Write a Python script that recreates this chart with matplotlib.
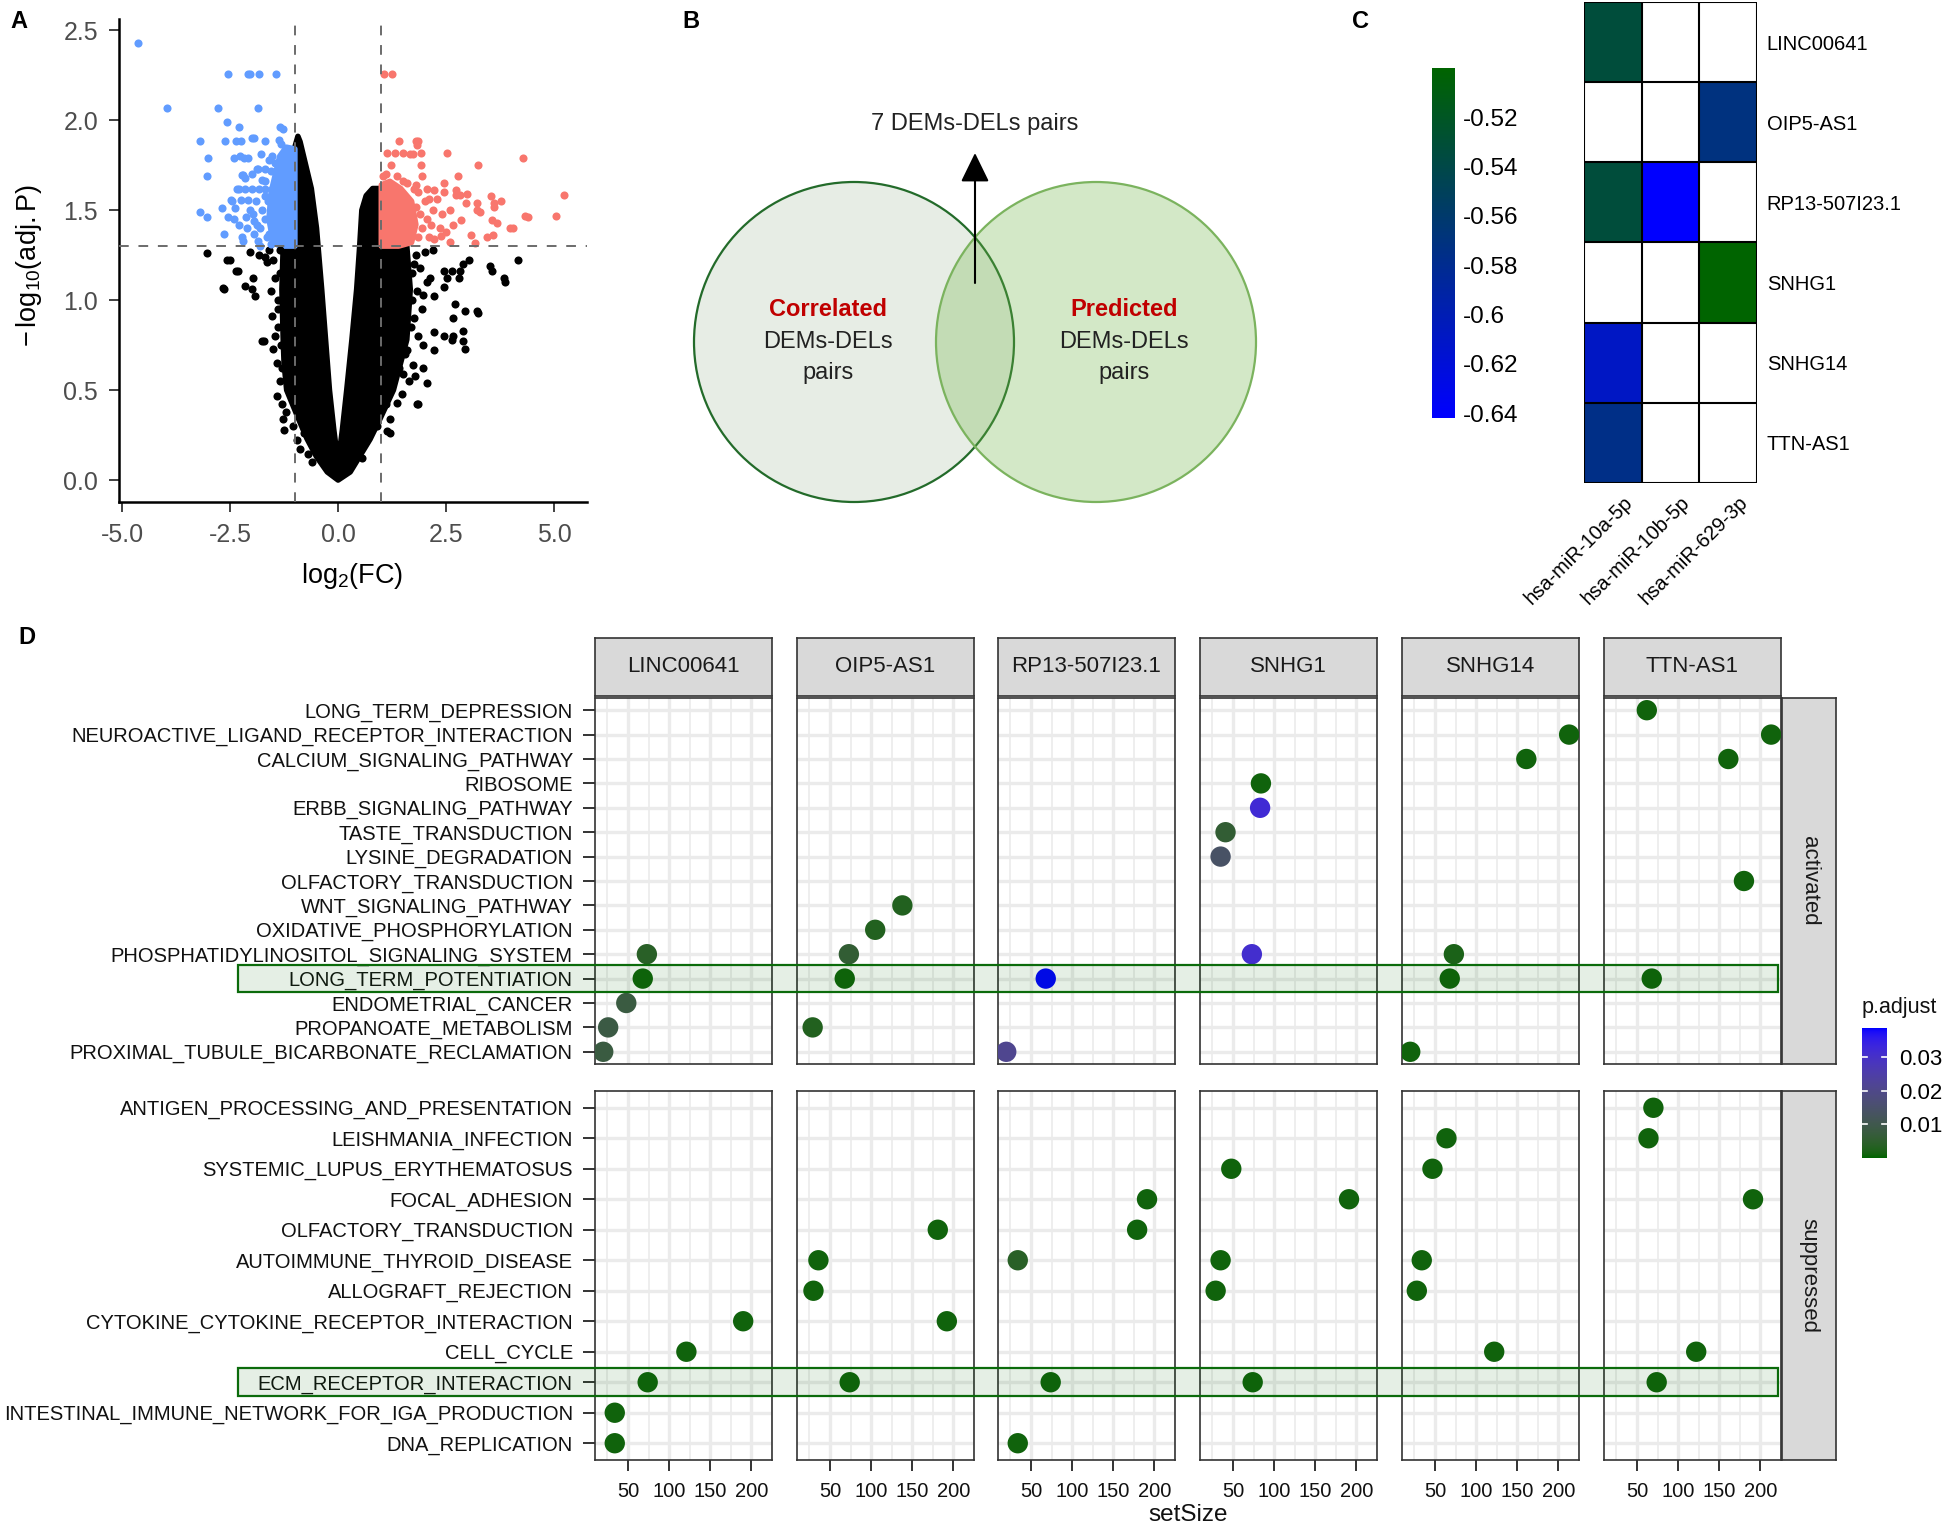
import numpy as np
import matplotlib
matplotlib.use('Agg')
import matplotlib.pyplot as plt
import matplotlib.transforms as mtransforms
from matplotlib.colors import LinearSegmentedColormap, ListedColormap, Normalize
from matplotlib.patches import Circle, Rectangle
from matplotlib.cm import ScalarMappable

plt.rcParams['font.family'] = ['Liberation Sans', 'DejaVu Sans']
plt.rcParams['mathtext.fontset'] = 'custom'
plt.rcParams['mathtext.rm'] = 'Liberation Sans'
plt.rcParams['mathtext.it'] = 'Liberation Sans:italic'
plt.rcParams['mathtext.bf'] = 'Liberation Sans:bold'

# ---------------- data : panel A (volcano) ----------------
v_outline = [(0.0, 0.0), (-0.25, 0.045), (-0.50, 0.13), (-0.72, 0.23), (-0.95, 0.36), (-1.19, 0.50),
             (-1.25, 0.65), (-1.27, 0.78), (-1.30, 1.06), (-1.27, 1.30), (-1.0, 1.30), (-1.0, 1.85),
             (-0.93, 1.91), (-0.88, 1.88), (-0.75, 1.75), (-0.62, 1.62), (-0.50, 1.40), (-0.38, 1.06),
             (-0.29, 0.78), (-0.20, 0.50), (-0.10, 0.28), (-0.02, 0.13), (0.02, 0.13), (0.10, 0.28),
             (0.20, 0.50), (0.32, 0.78), (0.43, 1.06), (0.50, 1.30), (0.55, 1.50), (0.65, 1.58),
             (0.80, 1.62), (0.95, 1.62), (1.0, 1.60), (1.0, 1.30), (1.59, 1.30), (1.67, 1.06),
             (1.59, 0.78), (1.28, 0.50), (0.95, 0.33), (0.74, 0.227), (0.28, 0.045)]
blue_core = [(-1.0, 1.30), (-1.0, 1.84), (-1.2, 1.85), (-1.35, 1.80), (-1.45, 1.70), (-1.55, 1.60),
             (-1.60, 1.45), (-1.50, 1.32), (-1.35, 1.30)]
red_core = [(1.0, 1.30), (1.0, 1.64), (1.2, 1.66), (1.45, 1.62), (1.7, 1.55), (1.8, 1.42),
            (1.7, 1.32), (1.4, 1.30)]
blue_points = [(-4.62, 2.43), (-2.55, 2.256), (-2.09, 2.256), (-2.05, 2.256), (-1.82, 2.256), (-1.44, 2.256),
               (-3.95, 2.07), (-2.78, 2.07), (-1.86, 2.07), (-2.57, 1.99), (-2.30, 1.96), (-1.34, 1.96),
               (-3.20, 1.886), (-2.62, 1.886), (-2.36, 1.886), (-2.25, 1.886), (-2.00, 1.90), (-1.94, 1.90),
               (-1.70, 1.886), (-1.37, 1.89), (-1.32, 1.87), (-3.02, 1.79), (-2.41, 1.79), (-2.28, 1.80),
               (-2.17, 1.79), (-2.08, 1.79), (-1.78, 1.81), (-1.53, 1.80), (-3.03, 1.687), (-2.23, 1.695),
               (-2.20, 1.695), (-1.88, 1.73), (-1.86, 1.73), (-1.69, 1.73), (-1.69, 1.66), (-2.35, 1.62),
               (-2.15, 1.62), (-2.00, 1.62), (-1.84, 1.62), (-1.69, 1.62), (-1.53, 1.62), (-1.38, 1.62),
               (-2.48, 1.558), (-2.25, 1.558), (-2.08, 1.558), (-2.69, 1.51), (-2.38, 1.51), (-2.55, 1.46),
               (-2.42, 1.45), (-3.19, 1.49), (-3.04, 1.46), (-2.14, 1.46), (-1.97, 1.48), (-1.94, 1.44),
               (-1.88, 1.42), (-2.63, 1.37), (-2.23, 1.35), (-2.21, 1.33), (-1.94, 1.37), (-1.61, 1.37),
               (-1.56, 1.31), (-1.28, 1.95), (-1.55, 1.72), (-1.62, 1.55), (-1.75, 1.50), (-1.80, 1.40),
               (-1.70, 1.45), (-1.65, 1.35), (-1.85, 1.33), (-2.05, 1.50), (-2.10, 1.40), (-2.30, 1.42),
               (-2.45, 1.55), (-2.15, 1.68), (-1.60, 1.78), (-1.70, 1.58), (-1.90, 1.55), (-2.30, 1.62),
               (-1.75, 1.67), (-1.45, 1.76), (-2.00, 1.70), (-1.80, 1.30)]
red_points = [(1.07, 2.254), (1.24, 2.254), (1.41, 1.885), (1.80, 1.885), (1.84, 1.885), (1.83, 1.86),
              (1.13, 1.82), (1.32, 1.82), (1.51, 1.82), (1.67, 1.81), (1.74, 1.81), (1.91, 1.82),
              (2.52, 1.82), (4.28, 1.79), (1.23, 1.75), (1.91, 1.75), (3.23, 1.75), (1.94, 1.687),
              (1.36, 1.687), (1.03, 1.687), (2.78, 1.69), (2.45, 1.65), (1.81, 1.64), (2.22, 1.61),
              (2.72, 1.61), (2.99, 1.59), (2.82, 1.585), (2.74, 1.585), (5.22, 1.585), (3.55, 1.58),
              (3.77, 1.55), (3.60, 1.54), (3.60, 1.52), (2.96, 1.54), (3.22, 1.54), (3.22, 1.50),
              (3.28, 1.49), (4.33, 1.465), (5.05, 1.47), (3.98, 1.40), (3.68, 1.43), (3.56, 1.445),
              (2.84, 1.445), (3.07, 1.364), (3.45, 1.349), (3.59, 1.364), (3.16, 1.317), (2.58, 1.325),
              (2.38, 1.354), (2.23, 1.34), (2.30, 1.56), (2.40, 1.48), (2.60, 1.50), (2.50, 1.38),
              (2.65, 1.42), (2.05, 1.45), (4.40, 1.46), (4.04, 1.40), (1.85, 1.60), (2.00, 1.55),
              (1.95, 1.40), (2.10, 1.35), (2.20, 1.50), (1.90, 1.48), (2.05, 1.62), (1.60, 1.65),
              (1.75, 1.62), (2.35, 1.40), (2.15, 1.42), (1.85, 1.35), (2.45, 1.60), (1.10, 1.70),
              (1.50, 1.66), (1.80, 1.52), (2.10, 1.56)]
black_points = [(-3.03, 1.26), (-2.58, 1.22), (-2.50, 1.22), (-2.36, 1.164), (-2.31, 1.164), (-2.66, 1.068),
                (-2.15, 1.08), (-1.96, 1.12), (-2.00, 1.06), (-1.92, 1.02), (-2.04, 1.27), (-1.84, 1.25),
                (-1.69, 1.24), (-1.65, 1.21), (-1.50, 1.22), (-1.77, 0.772), (-1.53, 0.91), (-1.50, 0.73),
                (-1.42, 0.65), (-1.42, 0.467), (-1.30, 0.42), (-1.25, 0.28), (-1.27, 0.34), (-0.88, 0.175),
                (-0.69, 0.145), (-0.80, 0.26), (-2.64, 1.06), (-1.72, 0.77), (-1.40, 1.0), (-1.45, 1.12),
                (-1.38, 0.85), (-1.35, 0.55), (-1.35, 1.15), (-1.40, 0.95), (-1.33, 0.75), (-1.30, 0.62),
                (-1.20, 0.38), (-1.05, 0.30), (-0.95, 0.22), (-0.60, 0.10), (-1.55, 1.05), (-1.60, 1.28),
                (-1.35, 1.28), (-1.45, 0.80),
                (4.17, 1.22), (3.52, 1.19), (3.56, 1.16), (3.83, 1.12),
                (3.87, 1.10), (2.90, 1.20), (3.02, 1.22), (2.82, 1.16), (2.63, 1.16), (2.44, 1.16),
                (2.79, 1.12), (3.21, 0.94), (2.94, 0.94), (2.71, 0.98), (2.67, 0.90), (2.90, 0.83),
                (2.67, 0.80), (2.90, 0.77), (2.63, 0.78), (2.44, 0.80), (2.21, 0.82), (1.97, 0.75),
                (2.21, 0.72), (2.05, 0.54), (1.82, 0.42), (1.78, 0.58), (1.97, 0.62), (1.74, 0.64),
                (1.51, 0.59), (1.20, 0.34), (1.13, 0.27), (1.36, 0.43), (1.47, 0.48), (2.44, 1.07),
                (2.21, 1.02), (2.52, 1.12), (2.13, 1.12), (1.97, 1.03), (1.82, 1.05), (3.24, 0.93),
                (2.93, 0.73), (1.86, 0.42), (1.21, 0.26), (1.80, 1.25), (2.00, 1.27), (2.20, 1.28),
                (1.90, 1.18), (1.75, 0.90), (1.85, 0.80), (1.70, 1.15), (1.75, 1.20), (1.72, 1.00),
                (1.68, 0.85), (1.55, 0.70), (1.42, 0.62), (1.10, 0.42), (0.90, 0.30), (0.55, 0.12),
                (1.65, 0.55), (1.95, 0.95), (2.05, 1.10), (1.60, 0.72)]
fc_cut = 1.0
p_cut = 1.3

# ---------------- data : panel C (heatmap) ----------------
heat_rows = ['LINC00641', 'OIP5-AS1', 'RP13-507I23.1', 'SNHG1', 'SNHG14', 'TTN-AS1']
heat_cols = ['hsa-miR-10a-5p', 'hsa-miR-10b-5p', 'hsa-miR-629-3p']
nan = np.nan
heat_vals = [[-0.533, nan, nan],
             [nan, nan, -0.571],
             [-0.533, -0.642, nan],
             [nan, nan, -0.500],
             [-0.609, nan, nan],
             [-0.575, nan, nan]]
heat_ticks = [-0.52, -0.54, -0.56, -0.58, -0.60, -0.62, -0.64]
heat_ticklabels = ['-0.52', '-0.54', '-0.56', '-0.58', '-0.6', '-0.62', '-0.64']

# ---------------- data : panel D (dot plot) ----------------
genes = ['LINC00641', 'OIP5-AS1', 'RP13-507I23.1', 'SNHG1', 'SNHG14', 'TTN-AS1']
act_terms = ['LONG_TERM_DEPRESSION', 'NEUROACTIVE_LIGAND_RECEPTOR_INTERACTION', 'CALCIUM_SIGNALING_PATHWAY',
             'RIBOSOME', 'ERBB_SIGNALING_PATHWAY', 'TASTE_TRANSDUCTION', 'LYSINE_DEGRADATION',
             'OLFACTORY_TRANSDUCTION', 'WNT_SIGNALING_PATHWAY', 'OXIDATIVE_PHOSPHORYLATION',
             'PHOSPHATIDYLINOSITOL_SIGNALING_SYSTEM', 'LONG_TERM_POTENTIATION', 'ENDOMETRIAL_CANCER',
             'PROPANOATE_METABOLISM', 'PROXIMAL_TUBULE_BICARBONATE_RECLAMATION']
sup_terms = ['ANTIGEN_PROCESSING_AND_PRESENTATION', 'LEISHMANIA_INFECTION', 'SYSTEMIC_LUPUS_ERYTHEMATOSUS',
             'FOCAL_ADHESION', 'OLFACTORY_TRANSDUCTION', 'AUTOIMMUNE_THYROID_DISEASE', 'ALLOGRAFT_REJECTION',
             'CYTOKINE_CYTOKINE_RECEPTOR_INTERACTION', 'CELL_CYCLE', 'ECM_RECEPTOR_INTERACTION',
             'INTESTINAL_IMMUNE_NETWORK_FOR_IGA_PRODUCTION', 'DNA_REPLICATION']
# (gene, term, setSize, p.adjust)
act_points = [('LINC00641', 'PHOSPHATIDYLINOSITOL_SIGNALING_SYSTEM', 73, 0.004),
              ('LINC00641', 'LONG_TERM_POTENTIATION', 68, 0.001),
              ('LINC00641', 'ENDOMETRIAL_CANCER', 48, 0.008),
              ('LINC00641', 'PROPANOATE_METABOLISM', 26, 0.0085),
              ('LINC00641', 'PROXIMAL_TUBULE_BICARBONATE_RECLAMATION', 20, 0.008),
              ('OIP5-AS1', 'WNT_SIGNALING_PATHWAY', 138, 0.003),
              ('OIP5-AS1', 'OXIDATIVE_PHOSPHORYLATION', 105, 0.003),
              ('OIP5-AS1', 'PHOSPHATIDYLINOSITOL_SIGNALING_SYSTEM', 73, 0.006),
              ('OIP5-AS1', 'LONG_TERM_POTENTIATION', 68, 0.001),
              ('OIP5-AS1', 'PROPANOATE_METABOLISM', 29, 0.003),
              ('RP13-507I23.1', 'LONG_TERM_POTENTIATION', 68, 0.0387),
              ('RP13-507I23.1', 'PROXIMAL_TUBULE_BICARBONATE_RECLAMATION', 20, 0.021),
              ('SNHG1', 'RIBOSOME', 84, 0.001),
              ('SNHG1', 'ERBB_SIGNALING_PATHWAY', 83, 0.032),
              ('SNHG1', 'TASTE_TRANSDUCTION', 41, 0.006),
              ('SNHG1', 'LYSINE_DEGRADATION', 35, 0.014),
              ('SNHG1', 'PHOSPHATIDYLINOSITOL_SIGNALING_SYSTEM', 73, 0.031),
              ('SNHG14', 'NEUROACTIVE_LIGAND_RECEPTOR_INTERACTION', 213, 0.001),
              ('SNHG14', 'CALCIUM_SIGNALING_PATHWAY', 161, 0.001),
              ('SNHG14', 'PHOSPHATIDYLINOSITOL_SIGNALING_SYSTEM', 73, 0.002),
              ('SNHG14', 'LONG_TERM_POTENTIATION', 68, 0.001),
              ('SNHG14', 'PROXIMAL_TUBULE_BICARBONATE_RECLAMATION', 20, 0.001),
              ('TTN-AS1', 'LONG_TERM_DEPRESSION', 62, 0.001),
              ('TTN-AS1', 'NEUROACTIVE_LIGAND_RECEPTOR_INTERACTION', 213, 0.001),
              ('TTN-AS1', 'CALCIUM_SIGNALING_PATHWAY', 161, 0.001),
              ('TTN-AS1', 'OLFACTORY_TRANSDUCTION', 180, 0.001),
              ('TTN-AS1', 'LONG_TERM_POTENTIATION', 68, 0.001)]
sup_points = [('LINC00641', 'CYTOKINE_CYTOKINE_RECEPTOR_INTERACTION', 190, 0.001),
              ('LINC00641', 'CELL_CYCLE', 121, 0.001),
              ('LINC00641', 'ECM_RECEPTOR_INTERACTION', 74, 0.001),
              ('LINC00641', 'INTESTINAL_IMMUNE_NETWORK_FOR_IGA_PRODUCTION', 34, 0.001),
              ('LINC00641', 'DNA_REPLICATION', 34, 0.001),
              ('OIP5-AS1', 'OLFACTORY_TRANSDUCTION', 181, 0.001),
              ('OIP5-AS1', 'AUTOIMMUNE_THYROID_DISEASE', 36, 0.001),
              ('OIP5-AS1', 'ALLOGRAFT_REJECTION', 30, 0.001),
              ('OIP5-AS1', 'CYTOKINE_CYTOKINE_RECEPTOR_INTERACTION', 192, 0.001),
              ('OIP5-AS1', 'ECM_RECEPTOR_INTERACTION', 74, 0.001),
              ('RP13-507I23.1', 'FOCAL_ADHESION', 191, 0.001),
              ('RP13-507I23.1', 'OLFACTORY_TRANSDUCTION', 179, 0.001),
              ('RP13-507I23.1', 'AUTOIMMUNE_THYROID_DISEASE', 34, 0.004),
              ('RP13-507I23.1', 'ECM_RECEPTOR_INTERACTION', 74, 0.001),
              ('RP13-507I23.1', 'DNA_REPLICATION', 34, 0.001),
              ('SNHG1', 'SYSTEMIC_LUPUS_ERYTHEMATOSUS', 48, 0.001),
              ('SNHG1', 'FOCAL_ADHESION', 191, 0.001),
              ('SNHG1', 'AUTOIMMUNE_THYROID_DISEASE', 35, 0.001),
              ('SNHG1', 'ALLOGRAFT_REJECTION', 29, 0.001),
              ('SNHG1', 'ECM_RECEPTOR_INTERACTION', 74, 0.001),
              ('SNHG14', 'LEISHMANIA_INFECTION', 64, 0.001),
              ('SNHG14', 'SYSTEMIC_LUPUS_ERYTHEMATOSUS', 47, 0.001),
              ('SNHG14', 'AUTOIMMUNE_THYROID_DISEASE', 34, 0.001),
              ('SNHG14', 'ALLOGRAFT_REJECTION', 28, 0.001),
              ('SNHG14', 'CELL_CYCLE', 122, 0.001),
              ('TTN-AS1', 'ANTIGEN_PROCESSING_AND_PRESENTATION', 70, 0.001),
              ('TTN-AS1', 'LEISHMANIA_INFECTION', 64, 0.001),
              ('TTN-AS1', 'FOCAL_ADHESION', 191, 0.001),
              ('TTN-AS1', 'CELL_CYCLE', 122, 0.001),
              ('TTN-AS1', 'ECM_RECEPTOR_INTERACTION', 74, 0.001)]
highlight_terms = ['LONG_TERM_POTENTIATION', 'ECM_RECEPTOR_INTERACTION']
padj_ticks = [0.01, 0.02, 0.03]
padj_min, padj_max = 0.0, 0.0387


# ---------------- helpers ----------------
W, H = 1944, 1532
fig = plt.figure(figsize=(W / 100, H / 100), dpi=100)


def px_axes(x0, y0, x1, y1):
    return fig.add_axes([x0 / W, 1 - y1 / H, (x1 - x0) / W, (y1 - y0) / H])


def lab_cmap(c_low, c_high, n=256):
    # ggplot style gradient, interpolated in CIE Lab
    def lin(c):
        return np.where(c <= 0.04045, c / 12.92, ((c + 0.055) / 1.055) ** 2.4)

    def delin(c):
        c = np.clip(c, 0, 1)
        return np.where(c <= 0.0031308, 12.92 * c, 1.055 * c ** (1 / 2.4) - 0.055)

    M = np.array([[0.4124, 0.3576, 0.1805], [0.2126, 0.7152, 0.0722], [0.0193, 0.1192, 0.9505]])
    wp = np.array([0.95047, 1.0, 1.08883])
    d = 6 / 29

    def f(t):
        return np.where(t > d ** 3, np.cbrt(t), t / (3 * d * d) + 4 / 29)

    def finv(t):
        return np.where(t > d, t ** 3, 3 * d * d * (t - 4 / 29))

    def to_lab(hexc):
        rgb = np.array(matplotlib.colors.to_rgb(hexc))
        xyz = M @ lin(rgb) / wp
        fx, fy, fz = f(xyz)
        return np.array([116 * fy - 16, 500 * (fx - fy), 200 * (fy - fz)])

    a, b = to_lab(c_low), to_lab(c_high)
    cols = []
    for t in np.linspace(0, 1, n):
        L, aa, bb = a + (b - a) * t
        fy = (L + 16) / 116
        xyz = np.array([finv(fy + aa / 500), finv(fy), finv(fy - bb / 200)]) * wp
        rgb = delin(np.linalg.solve(M, xyz))
        cols.append(rgb)
    return ListedColormap(np.array(cols))


# ---------------- panel A ----------------
axA = px_axes(119, 19, 587, 502)
vx, vy = zip(*v_outline)
axA.fill(vx, vy, facecolor='black', edgecolor='black', lw=4, joinstyle='round', zorder=1)
bx, by = zip(*blue_core)
axA.fill(bx, by, facecolor='#619CFF', edgecolor='#619CFF', lw=4, joinstyle='round', zorder=1)
rx, ry = zip(*red_core)
axA.fill(rx, ry, facecolor='#F8766D', edgecolor='#F8766D', lw=4, joinstyle='round', zorder=1)
kx, ky = zip(*black_points)
axA.scatter(kx, ky, s=34, color='black', lw=0, zorder=2)
bx, by = zip(*blue_points)
axA.scatter(bx, by, s=34, color='#619CFF', lw=0, zorder=2)
rx, ry = zip(*red_points)
axA.scatter(rx, ry, s=34, color='#F8766D', lw=0, zorder=2)
for xv in (-fc_cut, fc_cut):
    axA.axvline(xv, color='#6b6b6b', lw=1.4, ls=(0, (5, 5)), zorder=3)
axA.axhline(p_cut, color='#6b6b6b', lw=1.4, ls=(0, (5, 5)), zorder=3)
axA.set_xlim(-5.07, 5.76)
axA.set_ylim(-0.122, 2.562)
axA.set_xticks([-5, -2.5, 0, 2.5, 5])
axA.set_xticklabels(['-5.0', '-2.5', '0.0', '2.5', '5.0'])
axA.set_yticks([0, 0.5, 1, 1.5, 2, 2.5])
axA.set_yticklabels(['0.0', '0.5', '1.0', '1.5', '2.0', '2.5'])
axA.tick_params(labelsize=18, labelcolor='#4D4D4D', color='#333333', length=7, width=1.3, pad=8)
for s in ('top', 'right'):
    axA.spines[s].set_visible(False)
for s in ('left', 'bottom'):
    axA.spines[s].set_linewidth(1.8)
axA.set_xlabel(r'$\mathregular{log_{2}(FC)}$', fontsize=19.5)
axA.set_ylabel(r'$\mathregular{-\,log_{10}(adj.P)}$', fontsize=19.5)
axA.xaxis.set_label_coords(0.498, -0.122)
axA.yaxis.set_label_coords(-0.16, 0.49)

# ---------------- panel B (venn) ----------------
axB = px_axes(640, 100, 1320, 560)
axB.set_xlim(640, 1320)
axB.set_ylim(560, 100)
axB.axis('off')
axB.add_patch(Circle((854, 342), 160, facecolor=(0.25, 0.44, 0.18, 0.12), edgecolor='#236B2A', lw=1.6))
axB.add_patch(Circle((1096, 342), 160, facecolor=(0.44, 0.71, 0.28, 0.30), edgecolor='#7BB35E', lw=1.6))
axB.text(828, 310, 'Correlated', ha='center', va='center', fontsize=17, fontweight='bold', color='#C00000')
axB.text(828, 342, 'DEMs-DELs', ha='center', va='center', fontsize=17, color='#222222')
axB.text(828, 373, 'pairs', ha='center', va='center', fontsize=17, color='#222222')
axB.text(1124, 310, 'Predicted', ha='center', va='center', fontsize=17, fontweight='bold', color='#C00000')
axB.text(1124, 342, 'DEMs-DELs', ha='center', va='center', fontsize=17, color='#222222')
axB.text(1124, 373, 'pairs', ha='center', va='center', fontsize=17, color='#222222')
axB.annotate('', xy=(975, 153), xytext=(975, 283),
             arrowprops=dict(arrowstyle='-|>,head_length=0.45,head_width=0.22', color='black', lw=1.5,
                             mutation_scale=40, shrinkA=0, shrinkB=0))
axB.text(975, 124, '7 DEMs-DELs pairs', ha='center', va='center', fontsize=17, color='#222222')

# ---------------- panel C (heatmap) ----------------
axC = px_axes(1584, 2, 1757, 483)
heat_cmap = LinearSegmentedColormap.from_list('bg', ['#0000FF', '#006400'])
vals = np.ma.masked_invalid(np.array(heat_vals))
pcm = axC.pcolormesh(np.arange(len(heat_cols) + 1), np.arange(len(heat_rows) + 1), vals,
                     cmap=heat_cmap, vmin=-0.642, vmax=-0.500)
for i in range(len(heat_cols) + 1):
    axC.axvline(i, color='black', lw=1.5)
for j in range(len(heat_rows) + 1):
    axC.axhline(j, color='black', lw=1.5)
axC.set_xlim(0, len(heat_cols))
axC.set_ylim(len(heat_rows), 0)
for s in axC.spines.values():
    s.set_visible(False)
axC.yaxis.tick_right()
axC.set_yticks(np.arange(len(heat_rows)) + 0.5)
axC.set_yticklabels(heat_rows, fontsize=14.5)
axC.set_xticks(np.arange(len(heat_cols)) + 0.5)
axC.set_xticklabels(heat_cols, fontsize=14.5, rotation=45, ha='right', va='top', rotation_mode='anchor')
axC.tick_params(length=0, pad=7)
for lab in axC.get_xticklabels():
    lab.set_transform(lab.get_transform() + mtransforms.ScaledTranslation(10 / 100, 0, fig.dpi_scale_trans))

caxC = px_axes(1432, 68, 1455, 418)
cbC = fig.colorbar(pcm, cax=caxC)
cbC.outline.set_visible(False)
cbC.set_ticks(heat_ticks)
cbC.set_ticklabels(heat_ticklabels)
caxC.tick_params(length=0, labelsize=17.5, pad=6)

# ---------------- panel D (facetted dot plot) ----------------
pcmap = lab_cmap('#006400', '#0000FF')
pnorm = Normalize(padj_min, padj_max)
col_left = [595, 797, 998, 1200, 1402, 1604]
col_w = 177
rows_px = [(698, 1064), (1091, 1460)]
row_lims = [(15.5, 0.5), (12.55, 0.45)]
groups = [('activated', act_terms, act_points), ('suppressed', sup_terms, sup_points)]
first_col_axes = []
for g, (gname, terms, pts) in enumerate(groups):
    y0, y1 = rows_px[g]
    for i, gene in enumerate(genes):
        x0 = col_left[i]
        ax = px_axes(x0, y0, x0 + col_w, y1)
        ax.set_xlim(10, 225)
        ax.set_ylim(*row_lims[g])
        ax.set_xticks([50, 100, 150, 200])
        ax.set_xticks([25, 75, 125, 175, 225], minor=True)
        ax.set_yticks(np.arange(1, len(terms) + 1))
        ax.grid(which='major', color='#EBEBEB', lw=2.4)
        ax.grid(which='minor', axis='x', color='#EBEBEB', lw=1.2)
        ax.set_axisbelow(True)
        sel = [p for p in pts if p[0] == gene]
        xs = [p[2] for p in sel]
        ys = [terms.index(p[1]) + 1 for p in sel]
        cs = [p[3] for p in sel]
        ax.scatter(xs, ys, c=cs, cmap=pcmap, norm=pnorm, s=215, lw=0, zorder=3)
        for s in ax.spines.values():
            s.set_color('#333333')
            s.set_linewidth(1.2)
        ax.tick_params(which='minor', length=0)
        ax.tick_params(which='major', color='#333333', width=1.4, labelsize=14.5, labelcolor='#111111')
        ax.tick_params(axis='y', length=9, pad=7)
        ax.tick_params(axis='x', length=8, pad=8)
        if i == 0:
            ax.set_yticklabels(terms)
            first_col_axes.append(ax)
        else:
            ax.tick_params(left=False, labelleft=False)
        if g == 1:
            ax.set_xticklabels(['50', '100', '150', '200'])
        else:
            ax.tick_params(bottom=False, labelbottom=False)
        # strips
        if g == 0:
            sax = px_axes(x0, 638, x0 + col_w, 695.5)
            sax.set_facecolor('#D9D9D9')
            sax.set_xticks([])
            sax.set_yticks([])
            for s in sax.spines.values():
                s.set_color('#333333')
                s.set_linewidth(1.2)
            sax.text(0.5, 0.5, gene, ha='center', va='center', fontsize=16, color='#1A1A1A',
                     transform=sax.transAxes)
        if i == len(genes) - 1:
            rax = px_axes(1782, y0, 1836, y1)
            rax.set_facecolor('#D9D9D9')
            rax.set_xticks([])
            rax.set_yticks([])
            for s in rax.spines.values():
                s.set_color('#333333')
                s.set_linewidth(1.2)
            rax.text(0.5, 0.5, gname, ha='center', va='center', fontsize=16, color='#1A1A1A',
                     rotation=-90, transform=rax.transAxes)

fig.text(1188 / W, 1 - 1515 / H, 'setSize', ha='center', va='center', fontsize=17.5, color='#111111')

# highlighted rows
for g, term in enumerate(highlight_terms):
    terms = groups[g][1]
    y0, y1 = rows_px[g]
    lo, hi = row_lims[g]
    unit_px = (y1 - y0) / (lo - hi)
    half = 13.8 / unit_px
    yc = terms.index(term) + 1
    tr = mtransforms.blended_transform_factory(fig.transFigure, first_col_axes[g].transData)
    rect = Rectangle((238 / W, yc - half), (1778 - 238) / W, 2 * half, transform=tr,
                     facecolor=(0.0, 0.39, 0.0, 0.10), edgecolor='#0B6B0B', lw=1.6,
                     clip_on=False, zorder=10)
    fig.add_artist(rect)

# p.adjust legend
fig.text(1862 / W, 1 - 1008 / H, 'p.adjust', ha='left', va='center', fontsize=15.5, color='#111111')
caxD = px_axes(1862, 1028, 1887, 1158)
cbD = fig.colorbar(ScalarMappable(norm=pnorm, cmap=pcmap), cax=caxD)
cbD.outline.set_visible(False)
cbD.set_ticks(padj_ticks)
cbD.set_ticklabels(['0.01', '0.02', '0.03'])
caxD.tick_params(length=0, labelsize=16, pad=9)
for v in padj_ticks:
    caxD.axhline(v, 0, 0.2, color='white', lw=1.2)
    caxD.axhline(v, 0.8, 1, color='white', lw=1.2)

# panel letters
for letter, (lx, ly) in zip('ABCD', [(19, 22), (691, 22), (1360, 22), (27, 638)]):
    fig.text(lx / W, 1 - ly / H, letter, ha='center', va='center', fontsize=17, fontweight='bold')

fig.savefig('out.png', dpi=100)
